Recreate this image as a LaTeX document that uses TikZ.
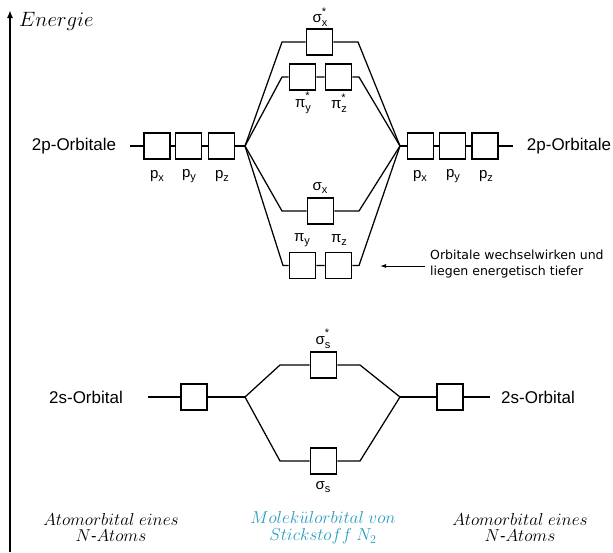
\documentclass[tikz,border=0pt]{standalone}
\usepackage{fontspec}
\setmainfont{Liberation Sans}
\newfontfamily\notefont{DejaVu Sans}
\usetikzlibrary{arrows.meta}
\definecolor{molcol}{RGB}{40,155,190}
\newcommand{\orbl}[3]{#1\makebox[0pt][l]{\raisebox{1.0ex}{\fontsize{11}{11}\selectfont #3}}\raisebox{-0.45ex}{\fontsize{11}{11}\selectfont #2}}
\begin{document}
\begin{tikzpicture}[x=1pt,y=-1pt,
  orb/.style={draw,line width=1.6pt,minimum size=26pt,inner sep=0pt,fill=white},
  con/.style={line width=1.25pt},
  lab/.style={font=\fontsize{15}{15}\selectfont,inner sep=0pt},
  big/.style={font=\fontsize{17}{17}\selectfont,inner sep=0pt},
  mtext/.style={font=\fontsize{16.4}{16}\selectfont,align=center,inner sep=0pt}]
\useasboundingbox (0,0) rectangle (613,552);
% energy axis
\coordinate (ebot) at (10,552);
\coordinate (etop) at (10,10);
\draw[line width=1.6pt,-{Latex[length=8pt,width=6pt]}] (ebot) -- (etop);
\node[anchor=west,inner sep=0pt,font=\fontsize{21}{21}\selectfont] (elab) at (19,21) {$Energie$};
% ---- 2p left
\coordinate (L2pend) at (130,146);
\node[orb] (lpx) at (157,146) {};
\node[orb] (lpy) at (188.5,146) {};
\node[orb] (lpz) at (221.5,146) {};
\coordinate (LJ) at (245,146);
\draw[con] (L2pend) -- (lpx) -- (lpy) -- (lpz) -- (LJ);
\node[big] (l2p) at (74,146) {2p-Orbitale};
\node[lab] (lpxl) at (157,176) {\orbl{p}{x}{}};
\node[lab] (lpyl) at (189,176) {\orbl{p}{y}{}};
\node[lab] (lpzl) at (222,176) {\orbl{p}{z}{}};
% ---- 2p right
\coordinate (RJ) at (400,146);
\node[orb] (rpx) at (420.5,146) {};
\node[orb] (rpy) at (452.5,146) {};
\node[orb] (rpz) at (485,146) {};
\coordinate (R2pend) at (513,146);
\draw[con] (RJ) -- (rpx) -- (rpy) -- (rpz) -- (R2pend);
\node[big] (r2p) at (569,146) {2p-Orbitale};
\node[lab] (rpxl) at (420,176) {\orbl{p}{x}{}};
\node[lab] (rpyl) at (453,176) {\orbl{p}{y}{}};
\node[lab] (rpzl) at (486,176) {\orbl{p}{z}{}};
% ---- sigma x *
\coordinate (a1) at (282,42);
\coordinate (a2) at (358,42);
\node[orb] (sxs) at (319.5,42) {};
\draw[con] (LJ) -- (a1) -- (sxs) -- (a2) -- (RJ);
\node[lab] (sxsl) at (320,17) {\orbl{σ}{x}{*}};
% ---- pi *
\coordinate (b1) at (282,77);
\coordinate (b2) at (359,77);
\node[orb] (pys) at (302.5,77) {};
\node[orb] (pzs) at (338.5,77) {};
\draw[con] (LJ) -- (b1) -- (pys) -- (pzs) -- (b2) -- (RJ);
\node[lab] (pysl) at (303,103) {\orbl{π}{y}{*}};
\node[lab] (pzsl) at (339,103) {\orbl{π}{z}{*}};
% ---- sigma x
\coordinate (c1) at (282,211);
\coordinate (c2) at (359,211);
\node[orb] (sx) at (320.5,211) {};
\draw[con] (LJ) -- (c1) -- (sx) -- (c2) -- (RJ);
\node[lab] (sxl) at (320,188) {\orbl{σ}{x}{}};
% ---- pi
\coordinate (d1) at (283,265.5);
\coordinate (d2) at (359,265.5);
\node[orb] (py) at (302.5,265.5) {};
\node[orb] (pz) at (338.5,265.5) {};
\draw[con] (LJ) -- (d1) -- (py) -- (pz) -- (d2) -- (RJ);
\node[lab] (pyl) at (302,240) {\orbl{π}{y}{}};
\node[lab] (pzl) at (339,240) {\orbl{π}{z}{}};
% annotation
\node[anchor=west,align=left,inner sep=0pt,font=\notefont\fontsize{12.5}{16}\selectfont] (note) at (430,264) {Orbitale wechselwirken und\\liegen energetisch tiefer};
\coordinate (ntip) at (380,266);
\draw[line width=1pt,-{Latex[length=6pt,width=4pt]}] ([xshift=-5pt]note.west |- ntip) -- (ntip);
% ---- 2s
\coordinate (L2send) at (148,397);
\node[orb] (ls) at (194,397) {};
\coordinate (LJ2) at (245,397);
\draw[con] (L2send) -- (ls) -- (LJ2);
\node[big] (l2s) at (86,397) {2s-Orbital};
\coordinate (RJ2) at (400,397);
\node[orb] (rs) at (450,397) {};
\coordinate (R2send) at (490,397);
\draw[con] (RJ2) -- (rs) -- (R2send);
\node[big] (r2s) at (538,397) {2s-Orbital};
\coordinate (e1) at (280,365);
\coordinate (e2) at (360,365);
\node[orb] (sss) at (323.5,365) {};
\draw[con] (LJ2) -- (e1) -- (sss) -- (e2) -- (RJ2);
\node[lab] (sssl) at (323,339) {\orbl{σ}{s}{*}};
\coordinate (f1) at (280,461);
\coordinate (f2) at (360,461);
\node[orb] (ss) at (323.5,461) {};
\draw[con] (LJ2) -- (f1) -- (ss) -- (f2) -- (RJ2);
\node[lab] (ssl) at (323,487) {\orbl{σ}{s}{}};
% bottom texts
\node[mtext] (bl) at (111,527) {$Atomorbital\ eines$\\$N$-$Atoms$};
\node[mtext,text=molcol] (bc) at (323,528) {$Molek\ddot{u}lorbital\ von$\\[1pt]$Stickstoff\ N_2$};
\node[mtext] (br) at (520,527) {$Atomorbital\ eines$\\$N$-$Atoms$};
\end{tikzpicture}
\end{document}
